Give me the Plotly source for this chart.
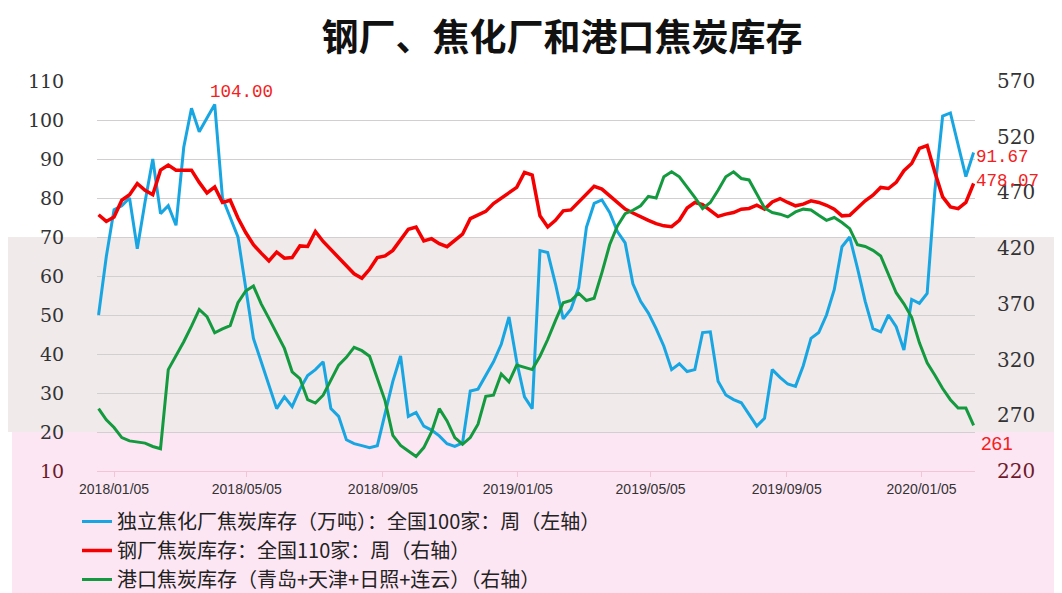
import pandas as pd
import plotly.graph_objects as go

# ---------------- data ----------------
start_date = "2017-12-22"
n_weeks = 114
dates = pd.date_range(start_date, periods=n_weeks, freq="7D")

coke_plant = [50, 65, 77, 78, 80, 67, 79, 90, 76, 78, 73, 93, 103, 97, 100.5, 104, 80, 75, 70, 57,
              44, 38, 32, 26, 29, 26.5, 31, 34.5, 36, 38, 26, 24, 18, 17, 16.5, 16, 16.5, 25, 33, 39.5,
              24, 25, 21.5, 20.5, 19, 17, 16.3, 17.2, 30.5, 31, 34.5, 38, 42.5, 49.5, 38, 29, 26, 66.5, 66, 58,
              49, 51.5, 57, 72.5, 78.6, 79.5, 76.3, 71.4, 68.5, 58, 53.5, 50.5, 46.5, 42, 36, 37.5, 35.5, 36, 45.5, 45.7,
              33, 29.5, 28.3, 27.5, 24.5, 21.5, 23.5, 36, 34, 32.3, 31.7, 37, 44, 45.5, 50, 56.5, 67.5, 70, 62, 53.5,
              46.5, 45.7, 50, 47, 41, 54, 53, 55.5, 82, 101, 101.8, 93.5, 85.5, 91.67]

steel_mill = [450, 444, 448, 463, 468, 478, 472, 468, 490, 494.5, 490, 490, 490, 479, 469.5, 475, 461, 463, 447, 434,
              423, 415.5, 408.5, 416.5, 411, 411.5, 422, 421.5, 435, 426, 419, 411, 404, 397, 393, 401, 411.5, 413, 418, 427,
              437, 439, 426.5, 428.5, 424, 421.3, 427, 432.5, 446.5, 450, 453, 460, 464.7, 469, 474.5, 488, 485.6, 449, 439, 445,
              453.5, 454.3, 461.5, 469, 475.5, 473, 467, 460.5, 455, 451.5, 448, 445, 442, 440, 439.3, 445, 456, 461, 459, 454,
              448.5, 450.5, 452, 455, 455.6, 458.5, 455, 461.5, 464.5, 461, 458, 459.5, 462.5, 461, 458.5, 455, 449, 449.5, 456.5, 462.5,
              467.5, 474.5, 473.5, 479, 489.5, 496, 509.5, 512, 488, 466, 457, 455.5, 461, 478.07]

port = [276, 266, 259, 250, 247, 246, 245, 242, 240, 311, 323, 336, 350, 365, 358.5, 344, 347.5, 350.5, 371, 381.5,
        386, 370, 357, 344, 330, 309, 303, 284, 281, 288, 302, 315, 322, 331, 328, 323, 303, 283, 252, 243,
        238, 233, 241, 255, 276, 265, 250, 244, 250, 262, 287, 288, 307, 300, 315, 313, 311, 323, 338, 355,
        371, 373, 379.5, 373, 375, 398, 423, 440, 451, 454, 458, 466.5, 465, 484, 488.6, 484, 475, 465.5, 455.5, 461,
        472, 484, 488.5, 482.5, 481.2, 469, 456, 452, 450.5, 448, 452.5, 455, 454.3, 449.5, 445, 447.5, 443, 437.5, 423, 421.5,
        418, 413, 396, 380, 370, 358, 335, 317, 306, 294, 284, 276.5, 276.5, 261]

series_names = ["独立焦化厂焦炭库存（万吨）：全国100家：周（左轴）",
                "钢厂焦炭库存：全国110家：周（右轴）",
                "港口焦炭库存（青岛+天津+日照+连云）（右轴）"]

x_tick_vals = ["2018-01-05", "2018-05-05", "2018-09-05", "2019-01-05", "2019-05-05", "2019-09-05", "2020-01-05"]
x_tick_text = ["2018/01/05", "2018/05/05", "2018/09/05", "2019/01/05", "2019/05/05", "2019/09/05", "2020/01/05"]
left_ticks = [10, 20, 30, 40, 50, 60, 70, 80, 90, 100, 110]
right_ticks = [220, 270, 320, 370, 420, 470, 520, 570]
title_text = "钢厂、焦化厂和港口焦炭库存"

# ---------------- figure ----------------
fig = go.Figure()
fig.add_trace(go.Scatter(x=dates, y=coke_plant, name=series_names[0], mode="lines",
                         line=dict(color="#18a6e2", width=3), yaxis="y"))
fig.add_trace(go.Scatter(x=dates, y=steel_mill, name=series_names[1], mode="lines",
                         line=dict(color="#f40000", width=3.5), yaxis="y2"))
fig.add_trace(go.Scatter(x=dates, y=port, name=series_names[2], mode="lines",
                         line=dict(color="#149a3e", width=3), yaxis="y2"))

serif = "DejaVu Serif"
left_text = [("<span style='color:#6e1a2a'>%d</span>" % v) if v == 10 else str(v) for v in left_ticks]
right_text = [("<span style='color:#6e1a2a'>%d</span>" % v) if v == 220 else str(v) for v in right_ticks]

# the page body adds an 8px offset; figure coordinates = screen coordinates - 8
OFF = 8
W, H = 1054, 585
L, R, T, B = 89, 87, 73, 122
pw = W - L - R
ph = H - T - B

def px_x(p):  # screen px -> paper
    return (p - OFF - L) / pw

def px_y(p):
    return (H - B - (p - OFF)) / ph

shapes = [
    dict(type="rect", xref="paper", yref="paper", x0=px_x(8), x1=px_x(1070), y0=px_y(432), y1=px_y(237),
         fillcolor="#f0eaeb", line=dict(width=0), layer="below"),
    dict(type="rect", xref="paper", yref="paper", x0=px_x(12), x1=px_x(1070), y0=px_y(600), y1=px_y(432),
         fillcolor="#fde6f3", line=dict(width=0), layer="below"),
]

mono = dict(family="Liberation Mono", size=17.5, color="#f42020")
annotations = [
    dict(x=dates[15], y=coke_plant[15], xref="x", yref="y", text="104.00", showarrow=False,
         xanchor="left", yanchor="bottom", xshift=-7, yshift=0, font=mono),
    dict(x=dates[-1], y=coke_plant[-1], xref="x", yref="y", text="91.67", showarrow=False,
         xanchor="left", yanchor="middle", xshift=0, yshift=-5, font=mono),
    dict(x=dates[-1], y=steel_mill[-1], xref="x", yref="y2", text="478.07", showarrow=False,
         xanchor="left", yanchor="middle", xshift=0, yshift=2, font=mono),
    dict(x=dates[-1], y=port[-1], xref="x", yref="y2", text="261", showarrow=False,
         xanchor="left", yanchor="middle", xshift=5, yshift=-18, font=dict(family="Liberation Sans", size=19, color="#f42020")),
]

fig.update_layout(
    width=W, height=H,
    margin=dict(l=L, r=R, t=T, b=B, autoexpand=False),
    paper_bgcolor="white",
    plot_bgcolor="rgba(0,0,0,0)",
    title=dict(text="<b>" + title_text + "</b>", x=(562 - OFF) / W, xref="container", xanchor="center",
               y=1 - (38 - OFF) / H, yref="container", yanchor="middle",
               font=dict(family="Noto Sans CJK SC", size=37, color="#111")),
    xaxis=dict(type="date", range=["2017-12-20 14:00", "2020-02-22 06:00"],
               tickvals=x_tick_vals, ticktext=x_tick_text, tickangle=0,
               tickfont=dict(family="Liberation Sans", size=14, color="#333"),
               showgrid=False, showline=True, linecolor="#f2c4d4", linewidth=1,
               ticks="outside", ticklen=5, tickcolor="#f2c4d4", zeroline=False),
    yaxis=dict(range=[10, 110], tickvals=left_ticks, ticktext=left_text,
               tickfont=dict(family=serif, size=19, color="#333"),
               showgrid=True, gridcolor="#d2cfd0", gridwidth=1.3, zeroline=False,
               ticks="outside", ticklen=28, tickcolor="rgba(0,0,0,0)"),
    yaxis2=dict(range=[220, 570], tickvals=right_ticks, ticktext=right_text, overlaying="y", side="right",
                tickfont=dict(family=serif, size=20, color="#333"),
                showgrid=False, zeroline=False,
                ticks="outside", ticklen=17, tickcolor="rgba(0,0,0,0)"),
    legend=dict(orientation="v", xref="container", yref="container", x=69 / W, y=1 - 494 / H,
                xanchor="left", yanchor="top", bgcolor="rgba(0,0,0,0)",
                font=dict(family="Noto Sans CJK SC", size=20, color="#222"), tracegroupgap=0),
    shapes=shapes,
    annotations=annotations,
    showlegend=True,
)

fig.write_html("out.html")
